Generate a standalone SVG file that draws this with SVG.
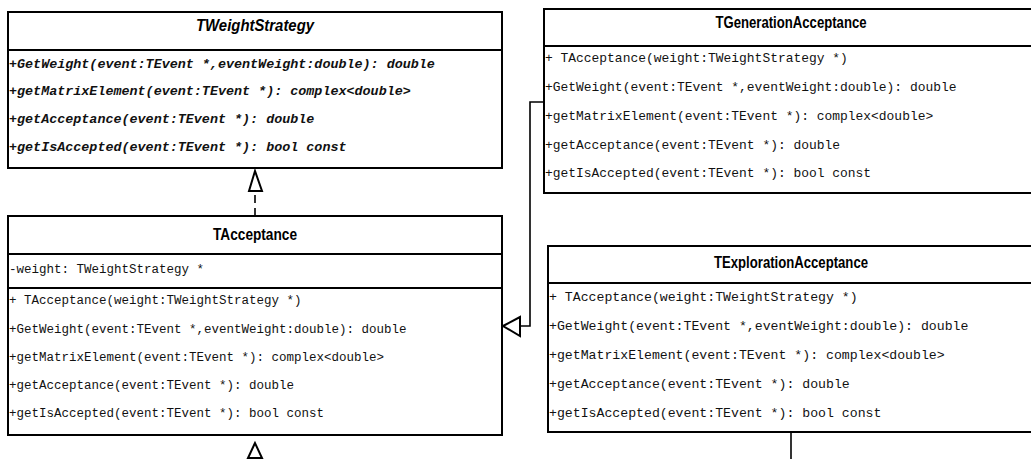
<svg xmlns="http://www.w3.org/2000/svg" width="1031" height="459" viewBox="0 0 1031 459">
<style>
.box{fill:#fff;stroke:#000;stroke-width:2}
.sep{stroke:#000;stroke-width:2}
.hdr{font-family:"Liberation Sans",Arial,sans-serif;font-weight:bold;font-size:16px;text-anchor:middle;fill:#000}
.mono{font-family:"Liberation Mono","Courier New",monospace;fill:#111}
.abs{font-weight:bold;font-style:italic;font-size:13.4px}
.edge{fill:none;stroke:#000;stroke-width:1.6}
.tri{fill:#fff;stroke:#000;stroke-width:2}
</style>
<g id="TWeightStrategy">
<rect class="box" x="8" y="12" width="494" height="156"/>
<line class="sep" x1="8" y1="50" x2="502" y2="50"/>
<text class="hdr" x="255" y="31" font-style="italic" textLength="118" lengthAdjust="spacingAndGlyphs">TWeightStrategy</text>
<text class="mono abs" x="9" y="68">+GetWeight(event:TEvent *,eventWeight:double): double</text>
<text class="mono abs" x="9" y="95">+getMatrixElement(event:TEvent *): complex&lt;double&gt;</text>
<text class="mono abs" x="9" y="123">+getAcceptance(event:TEvent *): double</text>
<text class="mono abs" x="9" y="151">+getIsAccepted(event:TEvent *): bool const</text>
</g>
<g id="TAcceptance">
<rect class="box" x="8" y="216" width="494" height="219"/>
<line class="sep" x1="8" y1="254" x2="502" y2="254"/>
<line class="sep" x1="8" y1="288" x2="502" y2="288"/>
<text class="hdr" x="255" y="240" textLength="84" lengthAdjust="spacingAndGlyphs">TAcceptance</text>
<g class="mono" font-size="12.5">
<text x="9" y="273">-weight: TWeightStrategy *</text>
<text x="9" y="304">+ TAcceptance(weight:TWeightStrategy *)</text>
<text x="9" y="333">+GetWeight(event:TEvent *,eventWeight:double): double</text>
<text x="9" y="361">+getMatrixElement(event:TEvent *): complex&lt;double&gt;</text>
<text x="9" y="389">+getAcceptance(event:TEvent *): double</text>
<text x="9" y="417">+getIsAccepted(event:TEvent *): bool const</text>
</g>
</g>
<g id="TGenerationAcceptance">
<rect class="box" x="544" y="9" width="500" height="184"/>
<line class="sep" x1="544" y1="46" x2="1044" y2="46"/>
<text class="hdr" x="791" y="28" textLength="151" lengthAdjust="spacingAndGlyphs">TGenerationAcceptance</text>
<g class="mono" font-size="12.95">
<text x="545" y="62">+ TAcceptance(weight:TWeightStrategy *)</text>
<text x="545" y="91">+GetWeight(event:TEvent *,eventWeight:double): double</text>
<text x="545" y="120">+getMatrixElement(event:TEvent *): complex&lt;double&gt;</text>
<text x="545" y="149">+getAcceptance(event:TEvent *): double</text>
<text x="545" y="177">+getIsAccepted(event:TEvent *): bool const</text>
</g>
</g>
<g id="TExplorationAcceptance">
<rect class="box" x="548" y="246" width="500" height="186"/>
<line class="sep" x1="548" y1="283" x2="1048" y2="283"/>
<text class="hdr" x="791" y="268" textLength="154" lengthAdjust="spacingAndGlyphs">TExplorationAcceptance</text>
<g class="mono" font-size="13.2">
<text x="549" y="301">+ TAcceptance(weight:TWeightStrategy *)</text>
<text x="549" y="330">+GetWeight(event:TEvent *,eventWeight:double): double</text>
<text x="549" y="359">+getMatrixElement(event:TEvent *): complex&lt;double&gt;</text>
<text x="549" y="388">+getAcceptance(event:TEvent *): double</text>
<text x="549" y="417">+getIsAccepted(event:TEvent *): bool const</text>
</g>
</g>
<g id="connectors">
<path class="edge" d="M255,216 V191" stroke-dasharray="8,5"/>
<polygon class="tri" points="255,171 249,191 262,191"/>
<path class="edge" d="M544,102 H530 V326 H520"/>
<polygon class="tri" points="503,326 520,317 520,336"/>
<polygon class="tri" points="255,443 248,458 262,458"/>
<path class="edge" d="M791,432 V459"/>
</g>
</svg>
